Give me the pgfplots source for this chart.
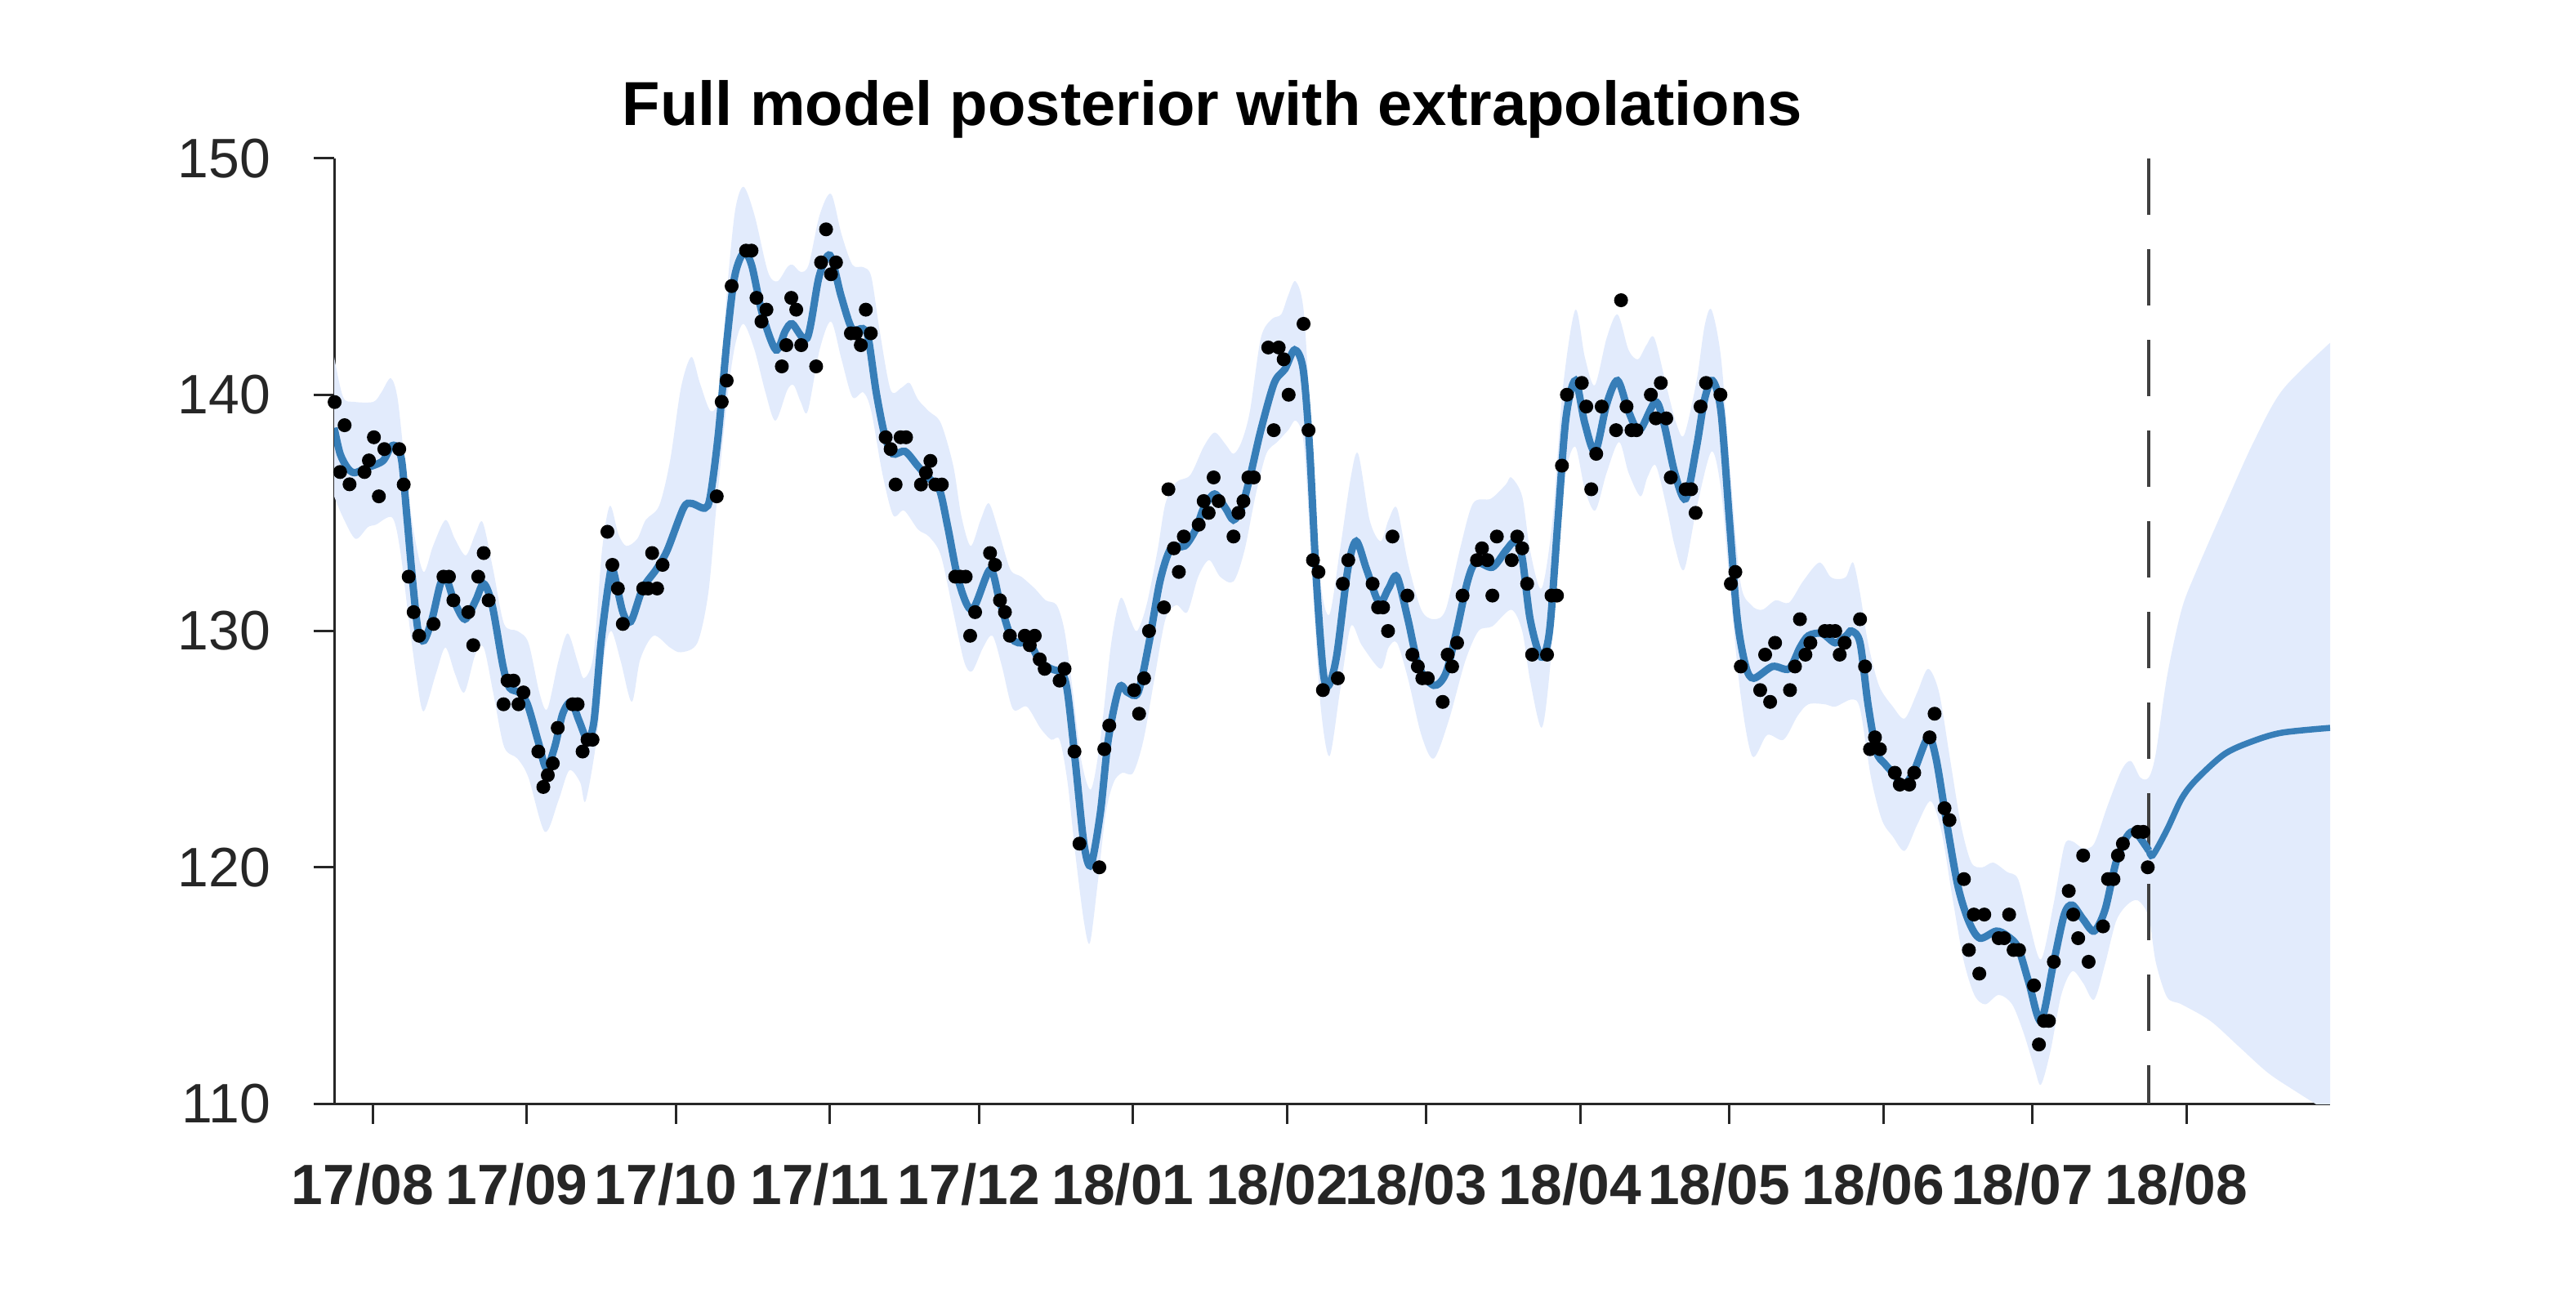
\documentclass[border=0pt]{standalone}
\usepackage{pgfplots}
\pgfplotsset{compat=1.18}
\usepgfplotslibrary{fillbetween}
\usepackage{fontspec}
\setmainfont{Liberation Sans}
\definecolor{bandcol}{RGB}{226,235,252}
\definecolor{linecol}{RGB}{55,126,184}
\definecolor{axcol}{RGB}{38,38,38}
\definecolor{dashcol}{RGB}{64,64,64}

\begin{document}
\begin{tikzpicture}
\begin{axis}[
  at={(0,0)}, anchor=south west,
  scale only axis, width=488.6pt, height=231.4pt,
  xmin=-7.8, xmax=393.9, ymin=110, ymax=150,
  axis lines*=left, axis line style={-, axcol, line width=0.6pt},
  tick style={axcol, line width=0.6pt}, tick align=outside, major tick length=5pt,
  xtick={0,31,61,92,122,153,184,212,243,273,304,334,365},
  xticklabels={17/08,17/09,17/10,17/11,17/12,18/01,18/02,18/03,18/04,18/05,18/06,18/07,18/08},
  ytick={110,120,130,140,150},
  /pgf/number format/assume math mode=true,
  xticklabel style={font=\bfseries\fontsize{13.9}{15}\selectfont, text=axcol, yshift=-6pt, xshift=-2.5pt},
  yticklabel style={font=\fontsize{13.6}{15}\selectfont, text=axcol, xshift=-7pt},
  title={Full model posterior with extrapolations},
  title style={at={(axis description cs:0.44,1)}, anchor=base, yshift=2pt, font=\bfseries\fontsize{15.2}{17}\selectfont},
  clip=true,
]
% upper band
\addplot[name path=U, draw=none, smooth, tension=0.5] coordinates {
(-7.8,141.6) (-6.0,139.9) (-3.8,139.7) (0.1,139.7) (1.7,140.1) (3.6,140.7) (5.0,139.8) (6.6,136.7) (8.3,134.1) (10.2,132.5)
(12.1,133.6) (14.6,134.7) (16.5,133.9) (18.7,133.2) (20.6,134.1) (22.1,134.6) (24.2,132.6) (26.4,130.3) (29.1,130.0) (31.3,129.5)
(33.5,127.4) (35.1,126.7) (37.3,128.7) (39.2,129.9) (41.2,128.7) (42.5,128.0) (44.4,129.0) (46.1,133.4) (47.7,135.3) (49.4,134.1)
(51.0,133.6) (53.2,133.9) (54.9,134.7) (57.6,135.3) (59.8,137.2) (62.0,140.3) (64.1,141.6) (65.8,140.5) (68.0,139.3) (69.7,140.1)
(71.3,144.5) (72.9,147.8) (74.6,148.8) (76.8,147.6) (79.5,145.2) (81.4,144.8) (83.4,145.4) (84.5,145.5) (86.1,145.2) (87.7,145.5)
(89.9,147.6) (92.2,148.5) (94.3,146.8) (96.5,145.5) (98.7,145.4) (100.3,145.0) (102.0,142.7) (104.2,140.2) (106.4,140.3) (108.0,140.5)
(109.7,139.8) (111.9,139.3) (114.3,138.8) (116.8,137.0) (118.4,134.9) (120.3,133.6) (122.3,134.7) (124.0,135.4) (126.1,134.1) (128.3,132.6)
(130.5,132.3) (133.2,131.8) (135.4,131.3) (137.6,131.1) (139.2,130.0) (140.9,127.4) (142.5,124.6) (144.5,123.3) (146.4,125.4) (148.6,129.5)
(150.5,131.4) (152.4,130.5) (153.8,130.0) (155.7,131.1) (157.9,133.4) (159.5,135.4) (161.7,136.3) (164.5,136.6) (167.2,137.8) (169.4,138.4)
(171.6,137.9) (173.2,137.5) (174.8,138.0) (176.5,139.3) (178.7,142.4) (180.9,143.2) (182.8,143.4) (184.2,144.2) (185.7,144.8) (187.4,143.4)
(189.1,137.2) (190.7,132.1) (192.5,130.7) (194.6,133.4) (196.8,136.5) (198.3,137.5) (200.6,134.7) (202.8,133.8) (204.4,134.7) (206.1,135.2)
(208.3,132.9) (211.0,130.9) (213.5,130.5) (215.9,130.9) (218.7,133.4) (221.4,135.4) (225.0,135.6) (228.0,136.2) (229.1,136.5) (231.3,135.7)
(232.9,133.4) (235.2,131.8) (237.4,134.7) (239.5,140.3) (242.0,143.6) (243.9,141.6) (245.9,140.4) (248.3,142.4) (250.5,143.4) (252.7,141.9)
(254.6,141.5) (256.3,142.1) (257.9,142.4) (260.4,140.3) (262.3,138.8) (263.9,138.3) (266.4,140.6) (268.0,142.9) (269.4,143.6) (271.3,141.6)
(273.0,137.2) (275.2,132.1) (277.4,131.1) (279.6,130.9) (282.3,131.3) (285.0,131.2) (287.8,132.1) (291.1,132.9) (293.3,132.3) (294.9,132.2)
(296.5,132.3) (297.9,132.9) (299.3,131.6) (300.9,129.5) (303.1,127.7) (305.9,126.8) (308.3,126.3) (310.8,127.4) (313.0,128.4) (315.2,127.4)
(317.4,124.6) (319.6,121.8) (321.7,120.2) (323.9,120.0) (326.1,120.2) (328.9,119.8) (331.1,119.5) (333.3,117.7) (335.7,116.1) (338.2,118.4)
(340.4,120.9) (342.0,121.1) (344.2,120.8) (346.4,121.0) (349.1,122.6) (351.9,124.1) (353.8,124.5) (355.7,123.8) (357.4,123.8) (358.8,124.8)
(361.1,128.1) (364.0,130.9) (366.9,132.5) (372.7,135.3) (378.5,138.0) (384.3,140.2) (393.9,142.2)
};
% lower band
\addplot[name path=L, draw=none, smooth, tension=0.5] coordinates {
(-7.8,135.7) (-6.0,134.8) (-3.5,133.9) (-1.0,134.4) (0.6,134.5) (3.9,134.8) (5.5,133.4) (7.2,130.5) (8.8,128.0) (10.2,126.6)
(12.7,128.2) (14.6,129.3) (16.5,128.2) (18.4,127.4) (20.6,129.0) (22.3,129.3) (24.2,127.4) (26.4,125.1) (29.1,124.6) (31.3,123.8)
(34.6,121.5) (37.3,122.8) (39.5,124.1) (41.7,123.6) (42.8,122.8) (45.0,125.4) (46.6,129.0) (48.0,130.0) (49.9,128.7) (52.1,127.0)
(53.8,128.8) (56.5,129.8) (59.8,129.3) (62.0,129.1) (65.3,129.5) (67.5,131.6) (69.1,135.2) (71.3,139.8) (72.9,142.1) (74.6,143.0)
(76.8,141.9) (79.0,140.1) (81.0,138.9) (83.4,140.2) (84.7,140.4) (86.1,139.7) (87.5,139.3) (89.9,141.9) (92.2,143.1) (94.3,141.5)
(96.5,139.9) (98.7,140.1) (100.3,139.3) (102.5,136.7) (104.7,134.9) (106.9,135.1) (109.7,134.3) (111.9,134.0) (114.3,133.2) (116.8,130.8)
(119.0,128.7) (120.6,128.3) (122.8,129.3) (124.7,129.8) (126.6,128.5) (128.8,126.7) (131.6,126.8) (134.3,125.9) (136.5,125.4) (138.2,125.4)
(139.8,123.6) (141.4,120.5) (143.1,117.7) (144.3,116.8) (145.8,119.2) (147.5,122.3) (149.1,123.6) (150.8,124.0) (153.0,124.0) (155.1,125.4)
(157.3,128.0) (159.5,130.5) (161.7,131.1) (163.9,130.8) (166.1,132.3) (168.3,133.0) (170.5,132.3) (173.2,132.1) (175.4,133.4) (177.6,135.7)
(179.8,137.5) (182.0,138.0) (184.2,138.5) (185.8,138.9) (187.4,137.8) (189.1,132.1) (190.7,126.9) (192.5,124.7) (194.6,127.4) (196.8,130.2)
(199.0,129.4) (202.8,128.4) (204.4,129.3) (206.1,129.5) (208.3,128.0) (211.0,125.6) (213.5,124.6) (216.5,126.2) (219.8,128.7) (222.5,130.0)
(225.3,130.2) (229.1,130.9) (231.3,130.0) (232.9,127.9) (235.2,125.9) (236.8,128.2) (238.5,133.1) (240.1,136.7) (242.0,137.8) (243.9,136.0)
(246.0,135.1) (248.3,136.7) (250.8,138.0) (252.7,136.7) (255.1,135.7) (256.5,136.5) (258.2,137.0) (260.4,135.2) (262.0,133.6) (263.9,132.6)
(266.4,135.2) (269.4,137.6) (271.3,136.0) (273.0,132.1) (275.2,127.4) (277.6,124.7) (280.6,125.6) (283.9,125.4) (286.7,126.4) (288.9,126.9)
(292.2,126.9) (294.3,126.8) (297.6,127.1) (299.3,126.7) (301.5,123.8) (303.7,122.0) (305.9,121.3) (308.3,120.7) (310.8,121.8) (313.5,122.8)
(315.7,121.5) (317.9,118.7) (320.1,116.1) (322.3,114.6) (324.5,114.2) (327.2,114.6) (329.9,114.2) (332.2,113.0) (334.4,111.5) (335.7,110.8)
(337.6,112.2) (339.8,114.6) (342.0,115.6) (344.2,115.1) (346.4,114.4) (348.6,115.9) (350.8,117.7) (353.0,118.4) (355.2,118.6) (357.4,117.9)
(358.8,116.0) (361.1,114.5) (364.0,114.2) (369.8,113.5) (375.6,112.4) (381.4,111.3) (387.1,110.5) (393.9,109.6)
};
\addplot[bandcol] fill between[of=U and L];
% boundary of observed data
\addplot[dashcol, line width=0.7pt, dash pattern=on 13.8pt off 8.4pt] coordinates {(357.4,150) (357.4,110)};
% posterior mean (observed range)
\addplot[linecol, line width=1.8pt, smooth, tension=0.5] coordinates {
(-7.8,138.6) (-6.6,137.5) (-5.1,136.9) (-3.7,136.7) (-1.3,136.9) (2.0,137.2) (3.6,137.8) (4.7,137.8) (5.8,137.2) (6.9,134.7)
(8.0,132.1) (9.1,130.0) (10.3,129.6) (11.9,130.5) (13.6,132.0) (14.8,132.2) (16.3,131.3) (18.5,130.5) (20.7,131.3) (22.3,132.0)
(24.0,131.1) (26.2,128.5) (27.5,127.6) (29.4,127.4) (31.1,126.9) (33.3,125.3) (34.9,124.2) (36.6,125.1) (38.2,126.5) (39.9,127.0)
(41.5,126.2) (43.2,125.4) (44.5,126.2) (45.9,129.5) (47.5,132.1) (48.3,132.6) (50.3,130.8) (51.9,130.4) (54.3,131.8) (57.0,132.6)
(59.2,133.4) (62.5,135.2) (64.1,135.4) (66.8,135.2) (67.9,135.7) (69.5,138.3) (71.3,142.4) (72.8,145.0) (74.6,146.0) (76.2,145.5)
(78.4,143.4) (81.1,141.9) (83.0,142.7) (84.4,143.0) (87.4,142.4) (89.8,145.0) (92.0,145.9) (94.2,144.2) (96.4,142.8) (98.6,142.8)
(99.7,142.4) (101.3,140.1) (103.0,138.3) (104.6,137.5) (107.1,137.6) (109.6,137.0) (111.7,136.5) (114.0,136.0) (115.7,134.4) (117.9,132.1)
(120.6,130.9) (124.2,132.6) (126.1,131.3) (128.3,129.8) (129.9,129.5) (132.1,129.5) (134.3,128.7) (136.5,128.4) (138.7,128.2) (139.8,127.4)
(141.4,124.4) (143.1,121.0) (144.5,120.1) (146.4,122.3) (148.0,125.4) (150.2,127.6) (151.9,127.4) (154.0,127.4) (156.2,129.5) (158.4,132.1)
(160.6,133.5) (163.4,133.6) (165.6,134.3) (167.2,135.2) (169.4,135.8) (171.6,135.2) (173.2,134.7) (174.8,135.2) (176.5,136.5) (178.7,138.5)
(181.4,140.5) (183.6,141.1) (185.5,141.9) (187.2,141.1) (188.5,137.8) (189.9,132.1) (191.3,128.2) (192.4,127.7) (194.0,129.0) (196.2,132.6)
(197.9,133.8) (200.0,132.6) (202.5,131.2) (204.4,131.8) (206.1,132.3) (208.3,130.5) (210.5,128.5) (213.5,127.7) (215.9,128.2) (218.1,130.0)
(220.3,132.1) (222.0,132.9) (225.3,132.7) (228.0,133.4) (229.9,133.8) (231.3,133.1) (232.9,130.5) (235.1,128.9) (236.8,130.0) (238.5,134.7)
(240.1,139.0) (242.0,140.6) (243.9,138.8) (246.0,137.6) (248.3,139.6) (250.5,140.6) (252.7,139.3) (254.9,138.5) (258.1,139.7) (259.8,138.8)
(262.0,136.7) (264.2,135.6) (266.4,137.8) (268.0,139.8) (269.6,140.6) (271.3,139.3) (273.0,134.7) (274.6,130.5) (276.3,128.5) (277.9,128.0)
(281.7,128.5) (285.0,128.4) (287.2,129.3) (288.9,129.8) (291.6,129.9) (294.3,129.5) (296.5,129.8) (297.6,130.0) (299.3,129.5) (300.9,126.9)
(302.6,124.9) (304.2,124.4) (305.9,124.0) (308.1,123.5) (310.2,124.1) (313.0,125.5) (314.6,124.6) (316.8,121.8) (319.0,119.2) (321.2,117.7)
(323.4,117.0) (326.7,117.3) (328.9,117.1) (331.1,116.6) (333.3,115.1) (335.7,113.5) (338.2,115.9) (340.4,118.0) (342.0,118.4) (344.2,117.8)
(346.4,117.3) (348.6,118.2) (350.8,120.2) (353.0,121.3) (354.6,121.5) (356.8,120.9) (357.4,120.7)
};
% posterior mean (extrapolation)
\addplot[linecol, line width=1.5pt, smooth, tension=0.5] coordinates {
(357.4,120.7) (358.2,120.5) (361.1,121.6) (364.0,122.9) (366.9,123.7) (372.7,124.8) (378.5,125.35) (384.3,125.7) (393.9,125.9)
};
% observations
\addplot[only marks, mark=*, mark size=1.5pt, black] coordinates {
(-7.7,139.69) (-6.6,136.73) (-5.7,138.71) (-4.7,136.21) (-1.7,136.73) (-0.8,137.22) (0.2,138.2) (1.2,135.7) (2.3,137.7) (5.3,137.7)
(6.2,136.2) (7.2,132.3) (8.2,130.8) (9.3,129.8) (12.2,130.3) (14.2,132.3) (15.3,132.3) (16.2,131.3) (19.2,130.8) (20.2,129.4)
(21.2,132.3) (22.3,133.3) (23.3,131.3) (26.3,126.9) (27.1,127.9) (28.3,127.9) (29.3,126.9) (30.3,127.4) (33.3,124.9) (34.3,123.4)
(35.2,123.9) (36.2,124.4) (37.2,125.9) (40.2,126.9) (41.2,126.9) (42.2,124.9) (43.2,125.4) (44.2,125.4) (47.2,134.2) (48.2,132.8)
(49.3,131.8) (50.3,130.3) (54.4,131.8) (55.4,131.8) (56.2,133.3) (57.2,131.8) (58.3,132.8) (69.2,135.7) (70.2,139.7) (71.2,140.6)
(72.2,144.6) (75.1,146.1) (76.2,146.1) (77.2,144.1) (78.2,143.1) (79.2,143.6) (82.3,141.2) (83.2,142.1) (84.2,144.1) (85.2,143.6)
(86.2,142.1) (89.2,141.2) (90.2,145.6) (91.2,147.0) (92.2,145.1) (93.2,145.6) (96.2,142.6) (97.2,142.6) (98.2,142.1) (99.2,143.6)
(100.2,142.6) (103.2,138.2) (104.2,137.7) (105.2,136.2) (106.2,138.2) (107.3,138.2) (110.3,136.2) (111.3,136.7) (112.2,137.2) (113.2,136.2)
(114.5,136.2) (117.2,132.3) (118.2,132.3) (119.3,132.3) (120.2,129.8) (121.2,130.8) (124.2,133.3) (125.2,132.8) (126.2,131.3) (127.2,130.8)
(128.2,129.8) (131.2,129.8) (132.2,129.4) (133.2,129.8) (134.2,128.8) (135.2,128.4) (138.2,127.9) (139.2,128.4) (141.2,124.9) (142.2,121.0)
(146.2,120.0) (147.2,125.0) (148.2,126.0) (153.2,127.5) (154.2,126.5) (155.2,128.0) (156.2,130.0) (159.2,131.0) (160.1,136.0) (161.2,133.5)
(162.2,132.5) (163.2,134.0) (166.2,134.5) (167.2,135.5) (168.2,135.0) (169.2,136.5) (170.2,135.5) (173.2,134.0) (174.2,135.0) (175.2,135.5)
(176.2,136.5) (177.3,136.5) (180.2,142.0) (181.3,138.5) (182.3,142.0) (183.3,141.5) (184.3,140.0) (187.3,143.0) (188.3,138.5) (189.2,133.0)
(190.3,132.5) (191.2,127.5) (194.2,128.0) (195.2,132.0) (196.3,133.0) (201.2,132.0) (202.3,131.0) (203.3,131.0) (204.3,130.0) (205.2,134.0)
(208.2,131.5) (209.2,129.0) (210.3,128.5) (211.2,128.0) (212.3,128.0) (215.3,127.0) (216.3,129.0) (217.2,128.5) (218.2,129.5) (219.3,131.5)
(222.2,133.0) (223.2,133.5) (224.3,133.0) (225.3,131.5) (226.2,134.0) (229.2,133.0) (230.3,134.0) (231.3,133.5) (232.3,132.0) (233.3,129.0)
(236.3,129.0) (237.2,131.5) (238.3,131.5) (239.3,137.0) (240.3,140.0) (243.3,140.5) (244.2,139.5) (245.2,136.0) (246.2,137.5) (247.3,139.5)
(250.2,138.5) (251.2,144.0) (252.3,139.5) (253.3,138.5) (254.3,138.5) (257.2,140.0) (258.2,139.0) (259.2,140.5) (260.3,139.0) (261.2,136.5)
(264.2,136.0) (265.3,136.0) (266.2,135.0) (267.2,139.5) (268.3,140.5) (271.2,140.0) (273.3,132.0) (274.2,132.5) (275.3,128.5) (279.2,127.5)
(280.2,129.0) (281.2,127.0) (282.2,129.5) (285.2,127.5) (286.2,128.5) (287.2,130.5) (288.3,129.0) (289.3,129.5) (292.2,130.0) (293.2,130.0)
(294.3,130.0) (295.2,129.0) (296.2,129.5) (299.3,130.5) (300.3,128.5) (301.3,125.0) (302.3,125.5) (303.3,125.0) (306.3,124.0) (307.3,123.5)
(309.2,123.5) (310.2,124.0) (313.3,125.5) (314.3,126.5) (316.3,122.5) (317.3,122.0) (320.2,119.5) (321.2,116.5) (322.2,118.0) (323.3,115.5)
(324.3,118.0) (327.2,117.0) (328.3,117.0) (329.3,118.0) (330.2,116.5) (331.3,116.5) (334.3,115.0) (335.3,112.5) (336.3,113.5) (337.3,113.5)
(338.3,116.0) (341.3,119.0) (342.2,118.0) (343.2,117.0) (344.2,120.5) (345.3,116.0) (348.2,117.5) (349.2,119.5) (350.3,119.5) (351.2,120.5)
(352.2,121.0) (355.2,121.5) (356.3,121.5) (357.2,120.0)
};
\end{axis}
\pgfresetboundingbox
\path[use as bounding box] (-81.8pt,-45.2pt) rectangle (548.8pt,270.2pt);
\end{tikzpicture}
\end{document}
